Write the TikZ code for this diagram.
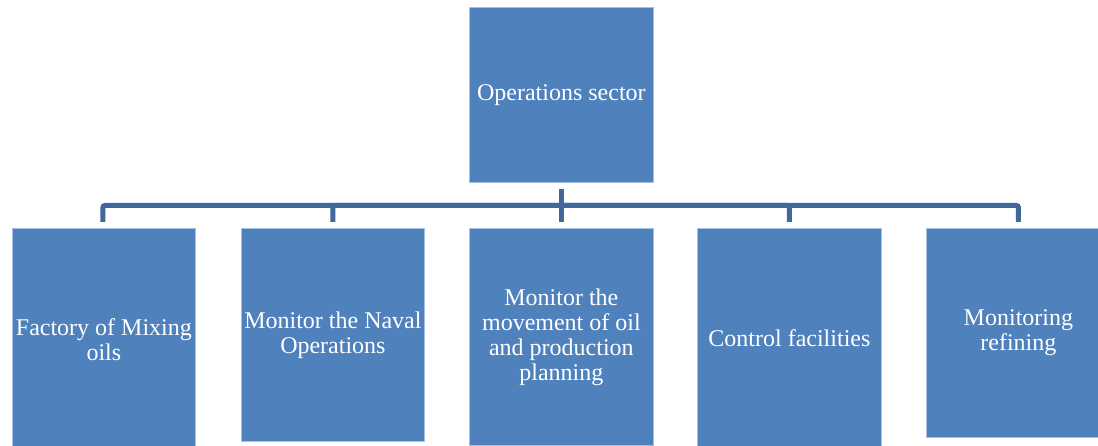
\documentclass[tikz,border=0pt]{standalone}
\usepackage{fontspec}
\setmainfont{Liberation Serif}
\definecolor{boxblue}{RGB}{79,129,189}
\definecolor{boxedge}{RGB}{165,192,226}
\definecolor{linkblue}{RGB}{65,104,154}
\tikzset{
  orgbox/.style={rectangle, fill=boxblue, draw=boxedge, line width=0.8pt,
    text=white, align=center, inner sep=1pt, anchor=north west,
    font=\fontsize{24}{25}\selectfont},
  conn/.style={draw=linkblue, line width=5pt, rounded corners=2pt}
}
\begin{document}
\begin{tikzpicture}[x=1pt,y=-1pt]
\useasboundingbox (0,0) rectangle (1098,446);
\clip (0,0) rectangle (1098,446);
\fill[white] (0,0) rectangle (1098,446);
\node[orgbox, minimum width=184, minimum height=175] (top) at (469,7) {Operations sector};
\node[orgbox, minimum width=183, minimum height=222] (c1) at (12,228) {Factory of Mixing\\oils};
\node[orgbox, minimum width=183, minimum height=213] (c2) at (241,228) {Monitor the Naval\\Operations};
\node[orgbox, minimum width=184, minimum height=217] (c3) at (469,228) {Monitor the\\movement of oil\\and production\\planning};
\node[orgbox, minimum width=184, minimum height=220] (c4) at (697,228) {Control facilities};
\node[orgbox, minimum width=184, minimum height=209] (c5) at (926,228) {Monitoring\\refining};
\coordinate (bar) at (561,205.5);
\draw[conn] ([yshift=-6pt]top.south) -- ([yshift=6pt]c3.north);
\draw[conn] (bar) -| ([xshift=-1pt,yshift=6pt]c1.north);
\draw[conn] (bar) -| ([yshift=6pt]c2.north);
\draw[conn] (bar) -| ([yshift=6pt]c4.north);
\draw[conn] (bar) -| ([yshift=6pt]c5.north);
\end{tikzpicture}
\end{document}
